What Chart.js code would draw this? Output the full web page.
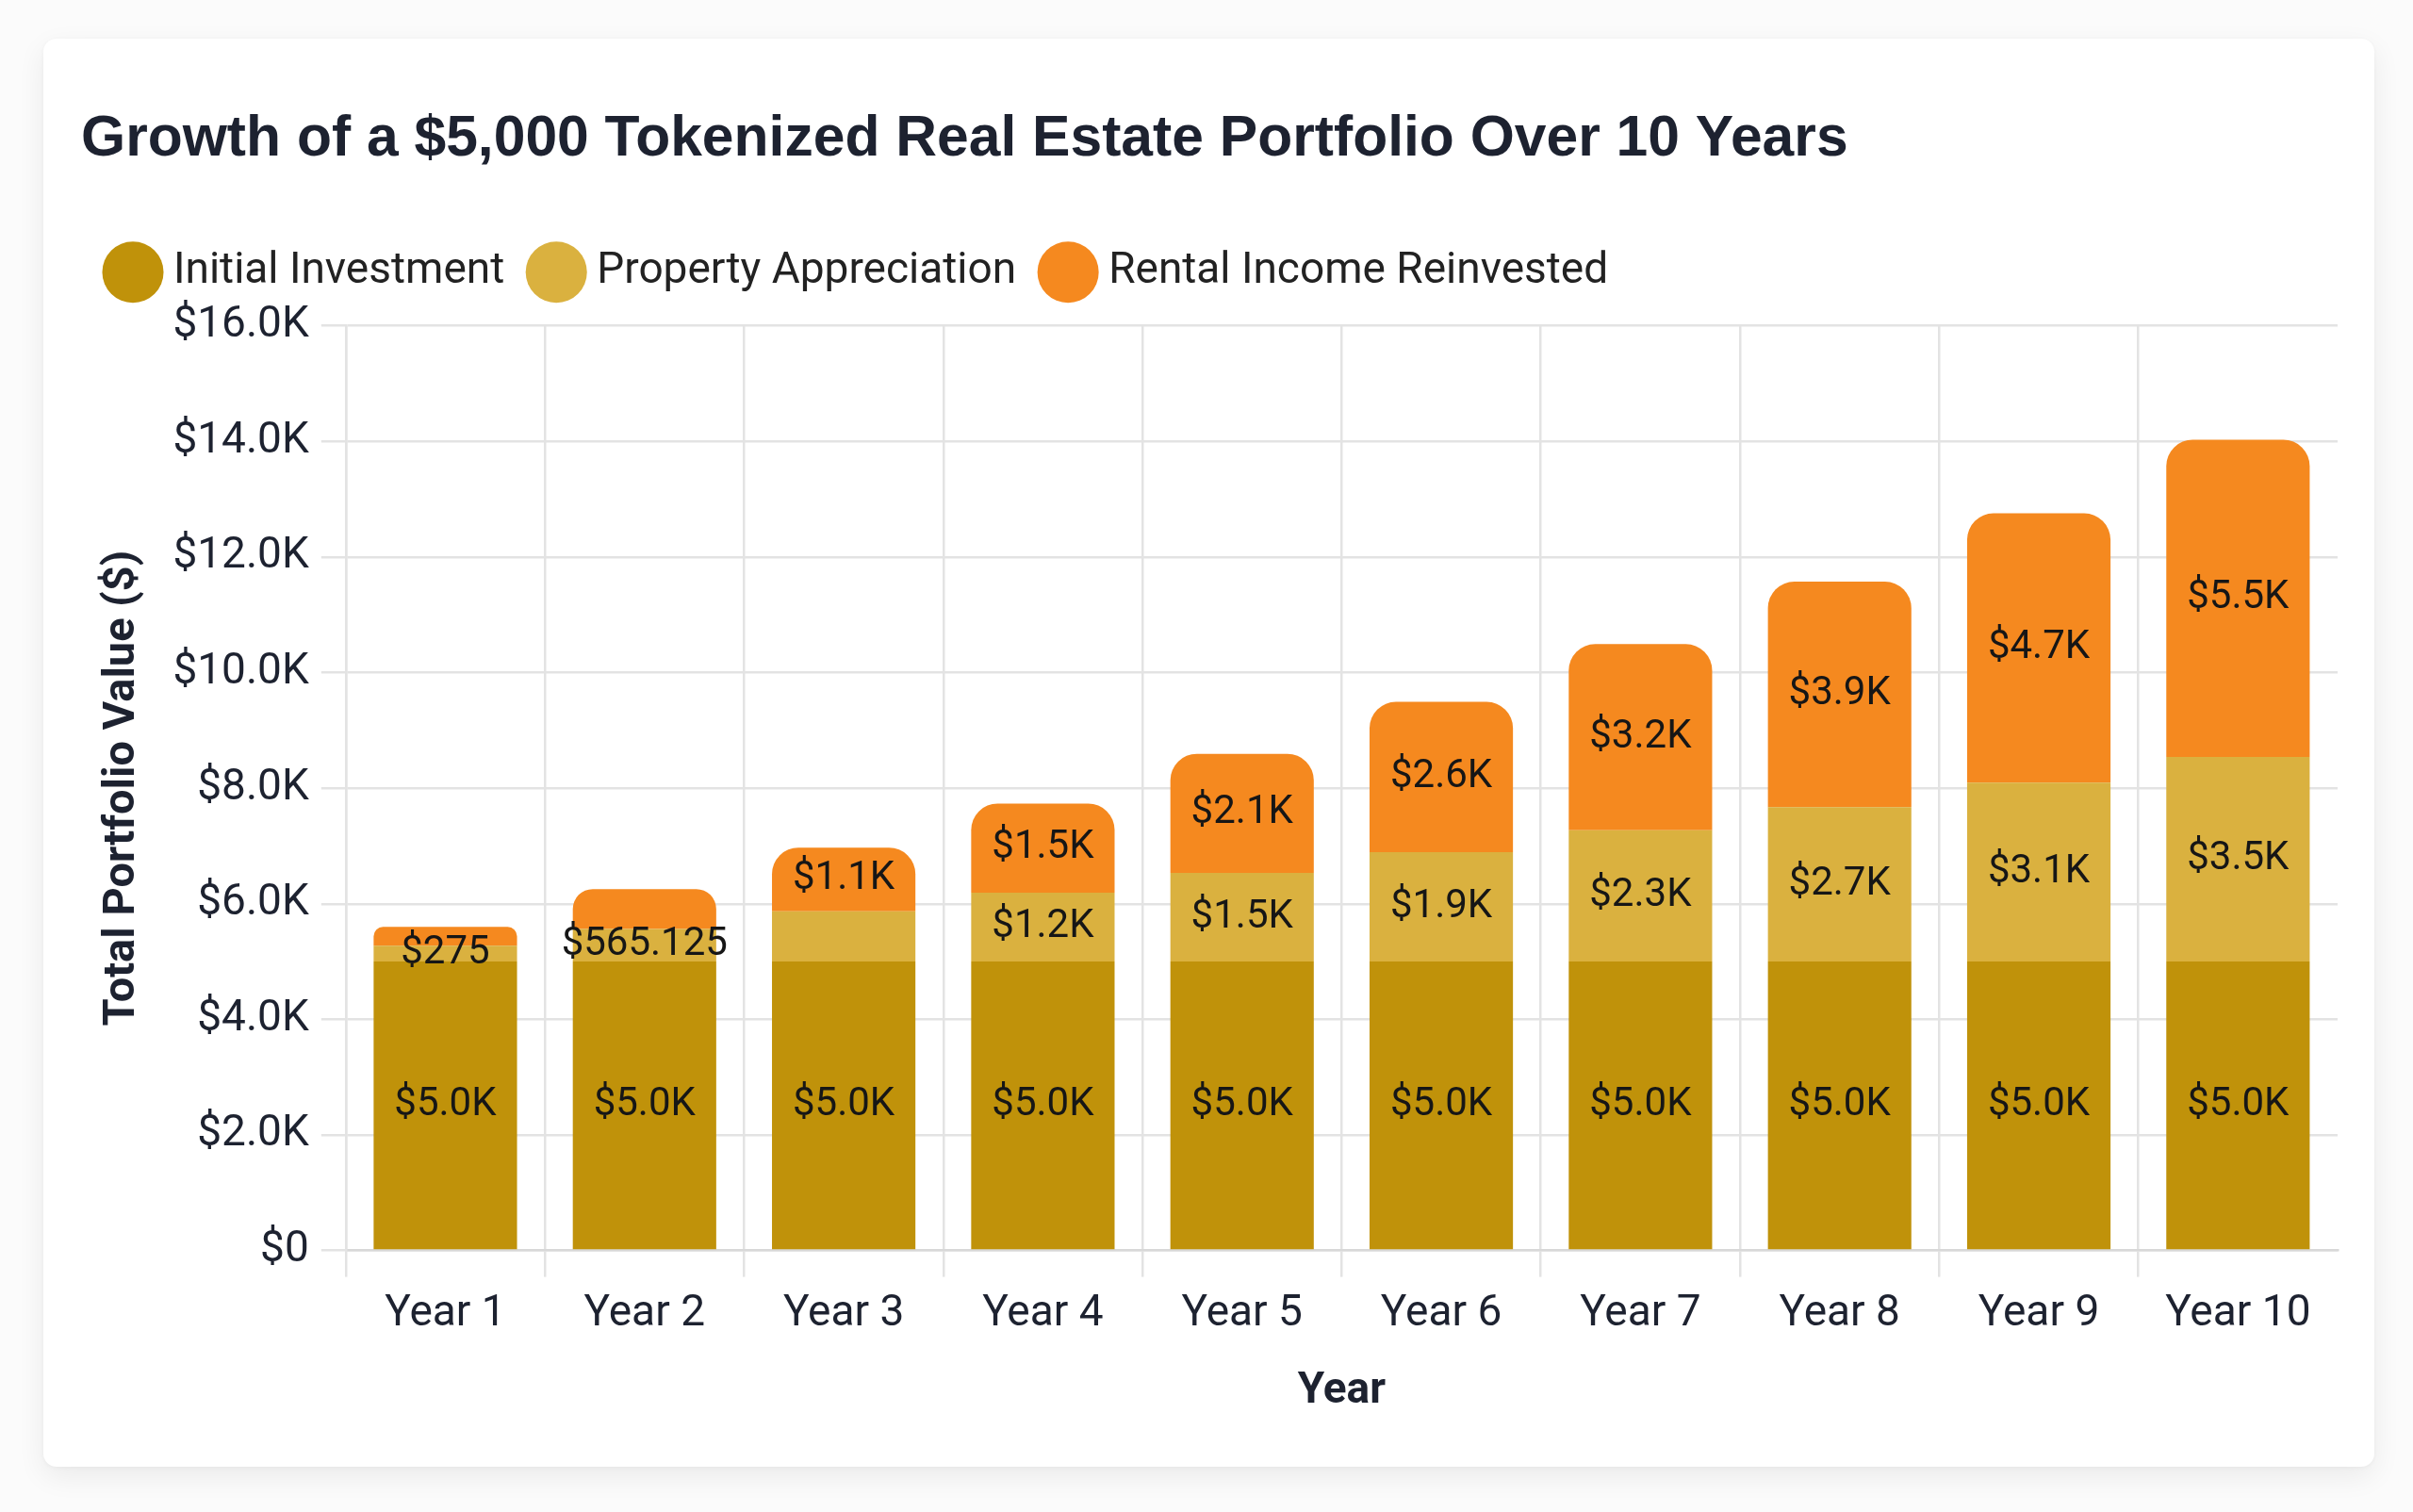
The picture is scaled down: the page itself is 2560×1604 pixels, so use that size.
<!DOCTYPE html>
<html>
<head>
<meta charset="utf-8">
<script src="https://cdn.jsdelivr.net/npm/chart.js@4.4.1/dist/chart.umd.min.js"></script>
<style>
  html, body { margin: 0; padding: 0; width: 2560px; height: 1604px; overflow: hidden; background: #fbfbfb; }
  #card { position: absolute; left: 46px; top: 41px; width: 2473px; height: 1515px; background: #ffffff;
          border-radius: 14px; box-shadow: 0 10px 30px rgba(0,0,0,0.07), 0 1px 4px rgba(0,0,0,0.04); }
  #card canvas { position: absolute; left: 0; top: 0; }
</style>
</head>
<body>
<div id="card"><canvas id="chart" width="2473" height="1515" style="width:2473px;height:1515px"></canvas></div>
<script>
// ---- data ----
const categories = ['Year 1', 'Year 2', 'Year 3', 'Year 4', 'Year 5', 'Year 6', 'Year 7', 'Year 8', 'Year 9', 'Year 10'];
const initialInvestment = [5000, 5000, 5000, 5000, 5000, 5000, 5000, 5000, 5000, 5000];
const propertyAppreciation = [275, 565.125, 871.2068750000004, 1194, 1535, 1894, 2273, 2674, 3096, 3541];
const rentalIncomeReinvested = [325, 690, 1100, 1540, 2060, 2600, 3220, 3900, 4660, 5490];
const seriesNames = ['Initial Investment', 'Property Appreciation', 'Rental Income Reinvested'];
const yTickValues = [0, 2000, 4000, 6000, 8000, 10000, 12000, 14000, 16000];

const COLORS = ['#C0920A', '#DAB13F', '#F5891F'];
const TEXT = '#1d2230';
const GRID = '#e3e3e3';

function money(v) {
  if (v === 0) return '$0';
  if (Math.abs(v) >= 1000) return '$' + (v / 1000).toFixed(1) + 'K';
  return '$' + v;
}

// segment labels with overlap hiding (same ordering rules as datalabels 'auto')
const segmentLabels = {
  id: 'segmentLabels',
  afterDatasetsDraw(chart) {
    const ctx = chart.ctx;
    const size = 42, pad = 4;
    ctx.save();
    ctx.font = size + 'px Roboto';
    const items = [];
    chart.data.datasets.forEach((ds, si) => {
      const meta = chart.getDatasetMeta(si);
      meta.data.forEach((el, i) => {
        const p = el.getProps(['x', 'y', 'base'], true);
        const text = money(ds.data[i]);
        const cy = (p.y + p.base) / 2;
        const w = ctx.measureText(text).width + pad * 2;
        const h = size * 1.2 + pad * 2;
        items.push({ set: si, idx: i, text, x: p.x, y: cy,
          l: p.x - w / 2, r: p.x + w / 2, t: cy - h / 2, b: cy + h / 2, visible: true });
      });
    });
    items.sort((a, b) => a.idx === b.idx ? b.set - a.set : b.idx - a.idx);
    const hit = (a, b) => a.l < b.r && a.r > b.l && a.t < b.b && a.b > b.t;
    for (let i = items.length - 1; i >= 0; --i) {
      const s0 = items[i];
      for (let j = i - 1; j >= 0 && s0.visible; --j) {
        const s1 = items[j];
        if (s1.visible && hit(s0, s1)) s1.visible = false;
      }
    }
    ctx.fillStyle = '#161616';
    ctx.textAlign = 'center';
    ctx.textBaseline = 'middle';
    items.forEach(it => { if (it.visible) ctx.fillText(it.text, it.x, it.y); });
    ctx.restore();
  }
};

// extra breathing room under the legend row
const legendGap = {
  id: 'legendGap',
  beforeLayout(chart) {
    const lg = chart.legend;
    if (lg && !lg._gapPatched) {
      const fit = lg.fit;
      lg.fit = function () { fit.call(this); this.height += 24; };
      lg._gapPatched = true;
    }
  }
};

new Chart(document.getElementById('chart'), {
  type: 'bar',
  data: {
    labels: categories,
    datasets: [
      { label: seriesNames[0], data: initialInvestment, backgroundColor: COLORS[0], borderWidth: 0, borderRadius: 28 },
      { label: seriesNames[1], data: propertyAppreciation, backgroundColor: COLORS[1], borderWidth: 0, borderRadius: 28 },
      { label: seriesNames[2], data: rentalIncomeReinvested, backgroundColor: COLORS[2], borderWidth: 0, borderRadius: 28 }
    ]
  },
  options: {
    responsive: false,
    animation: false,
    devicePixelRatio: 1,
    layout: { padding: { left: 40, right: 39, top: 0, bottom: 52 } },
    plugins: {
      title: {
        display: true,
        text: 'Growth of a $5,000 Tokenized Real Estate Portfolio Over 10 Years',
        align: 'start',
        color: TEXT,
        font: { family: 'Liberation Sans', size: 60.6, weight: 'bold' },
        padding: { top: 71, bottom: 46 }
      },
      legend: {
        position: 'top',
        align: 'start',
        labels: {
          usePointStyle: true,
          pointStyle: 'circle',
          color: '#222222',
          font: { family: 'Roboto', size: 46 },
          padding: 35
        }
      },
      tooltip: { enabled: false }
    },
    scales: {
      x: {
        stacked: true,
        grid: {
          offset: true,
          color: (c) => c.type === 'tick' ? GRID : 'rgba(0,0,0,0)',
          lineWidth: 2.5,
          tickLength: 28
        },
        border: { display: true, color: '#d8d8d8', width: 2.5 },
        ticks: { color: TEXT, font: { family: 'Roboto', size: 46 }, padding: 12 },
        title: {
          display: true, text: 'Year', color: TEXT,
          font: { family: 'Roboto', size: 46, weight: 'bold' },
          padding: { top: 15, bottom: 0 }
        }
      },
      y: {
        stacked: true,
        min: 0,
        max: 16000,
        afterBuildTicks: (scale) => { scale.ticks = yTickValues.map(v => ({ value: v })); },
        grid: { color: GRID, lineWidth: 2.5, tickLength: 26 },
        border: { display: true, color: GRID, width: 2.5 },
        ticks: { color: TEXT, font: { family: 'Roboto', size: 46 }, padding: 13, callback: (v) => money(v) },
        title: {
          display: true, text: 'Total Portfolio Value ($)', color: TEXT,
          font: { family: 'Roboto', size: 47, weight: 'bold' },
          padding: { top: 16, bottom: 12 }
        }
      }
    }
  },
  plugins: [segmentLabels, legendGap]
});
</script>
</body>
</html>
